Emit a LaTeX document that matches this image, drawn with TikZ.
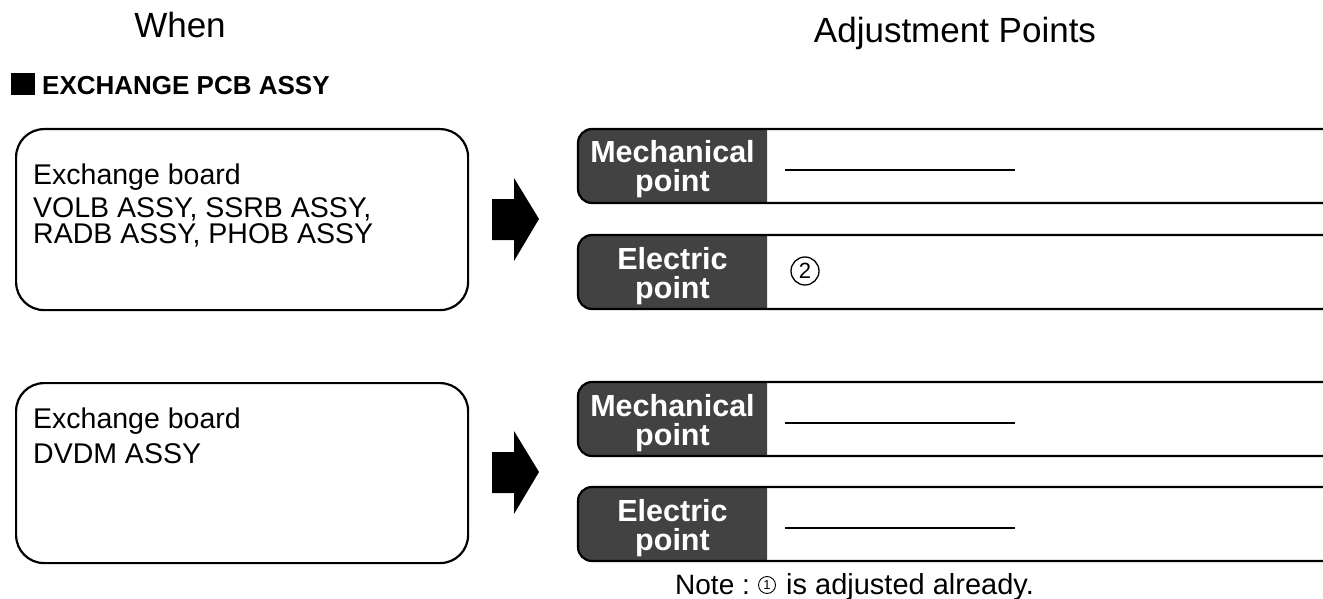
\documentclass[tikz,border=0pt]{standalone}
\usepackage{fontspec}
\setmainfont{Liberation Sans}
\begin{document}
\begin{tikzpicture}[x=1pt,y=-1pt,
  box/.style={draw, line width=2.2pt, rounded corners=28pt, inner sep=0pt},
  txt/.style={anchor=base west, inner sep=0pt, font=\fontsize{28.5}{28.5}\selectfont},
  hdr/.style={anchor=base, inner sep=0pt, font=\fontsize{35}{35}\selectfont},
  labtxt/.style={anchor=base, text=white, inner sep=0pt, font=\bfseries\fontsize{30.5}{30.5}\selectfont},
  labfill/.style={fill=black!74, rounded corners=14pt},
  panel/.style={draw=black, line width=2.2pt, rounded corners=14pt},
  blank/.style={line width=1.8pt},
  circnum/.style={circle, draw, inner sep=0pt},
]
\useasboundingbox (0,0) rectangle (1323,599);
\clip (0,0) rectangle (1323,599);

% headers
\node[hdr] (when) at (180,38) {When};
\node[hdr] (adj) at (955,43) {Adjustment Points};
\fill (11,73) rectangle (35,95);
\node[anchor=base west, inner sep=0pt, font=\bfseries\fontsize{26}{26}\selectfont] (sect) at (42,95) {EXCHANGE PCB ASSY};

% left boxes
\node[box, anchor=north west, minimum width=452pt, minimum height=181pt] (b1) at (15,128) {};
\node[txt] (b1a) at (33,185) {Exchange board};
\node[txt] (b1b) at (33,217) {VOLB ASSY, SSRB ASSY,};
\node[txt] (b1c) at (33,243) {RADB ASSY, PHOB ASSY};

\node[box, anchor=north west, minimum width=452pt, minimum height=180pt] (b2) at (15,382) {};
\node[txt] (b2a) at (33,428) {Exchange board};
\node[txt] (b2b) at (33,463) {DVDM ASSY};

% block arrows
\foreach \c in {219,472} {
  \fill (492,\c-20) -- (514,\c-20) -- (514,\c-41) -- (539,\c) -- (514,\c+42) -- (514,\c+21) -- (492,\c+21) -- cycle;
}

% right panels
\foreach \t/\na/\nb/\nm in {129/Mechanical/point/m1, 235/Electric/point/e1, 382/Mechanical/point/m2, 487/Electric/point/e2} {
  \begin{scope}
    \clip (560,\t-10) rectangle (767,\t+90);
    \fill[labfill] (578,\t) rectangle (820,\t+74);
  \end{scope}
  \draw[panel] (578,\t) rectangle (1336,\t+74);
  \node[labtxt] (\nm a) at (672.5,\t+34) {\na};
  \node[labtxt] (\nm b) at (672.5,\t+63) {\nb};
}

% contents of the panels
\draw[blank] (785,170) -- (1015,170);
\node[circnum, line width=1.3pt, minimum size=28pt, font=\fontsize{22}{22}\selectfont] (c2) at (805,271) {2};
\draw[blank] (785,423) -- (1015,423);
\draw[blank] (785,528) -- (1015,528);

% note
\node[anchor=base west, inner sep=0pt, font=\fontsize{28}{28}\selectfont] (note) at (675,594) {Note :};
\node[circnum, line width=0.9pt, minimum size=17pt, font=\fontsize{13}{13}\selectfont] (c1) at (767,585) {1};
\node[anchor=base west, inner sep=0pt, font=\fontsize{29}{29}\selectfont] (note2) at (786,594) {is adjusted already.};
\end{tikzpicture}
\end{document}
